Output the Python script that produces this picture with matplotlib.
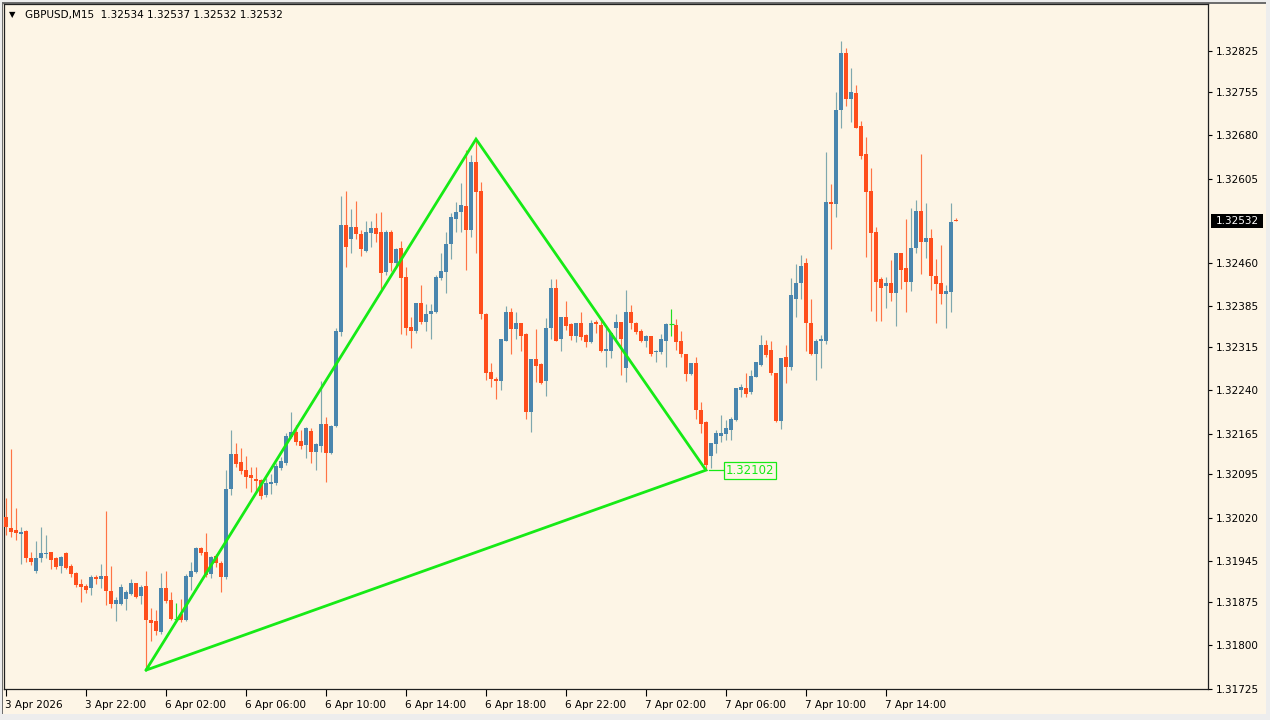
import matplotlib
matplotlib.use("Agg")
import matplotlib.pyplot as plt
from matplotlib.patches import Rectangle
import matplotlib.transforms as mtransforms

symbol_title = "GBPUSD,M15"
last_quote = ["1.32534", "1.32537", "1.32532", "1.32532"]

opens = [1.32021, 1.32003, 1.31998, 1.31991, 1.31997, 1.31950, 1.31928, 1.31950, 1.31957, 1.31960,
         1.31950, 1.31937, 1.31959, 1.31937, 1.31924, 1.31905, 1.31903, 1.31898, 1.31918, 1.31914,
         1.31919, 1.31894, 1.31871, 1.31871, 1.31879, 1.31888, 1.31907, 1.31885, 1.31902, 1.31843,
         1.31842, 1.31822, 1.31898, 1.31878, 1.31846, 1.31853, 1.31843, 1.31917, 1.31927, 1.31967,
         1.31960, 1.31922, 1.31954, 1.31941, 1.31918, 1.32069, 1.32130, 1.32116, 1.32102, 1.32094,
         1.32087, 1.32085, 1.32059, 1.32078, 1.32079, 1.32105, 1.32114, 1.32160, 1.32167, 1.32153,
         1.32145, 1.32170, 1.32134, 1.32144, 1.32181, 1.32131, 1.32179, 1.32340, 1.32524, 1.32500,
         1.32521, 1.32509, 1.32480, 1.32511, 1.32519, 1.32512, 1.32443, 1.32512, 1.32459, 1.32485,
         1.32435, 1.32349, 1.32342, 1.32390, 1.32358, 1.32372, 1.32374, 1.32433, 1.32444, 1.32492,
         1.32536, 1.32547, 1.32558, 1.32517, 1.32633, 1.32584, 1.32372, 1.32271, 1.32260, 1.32256,
         1.32325, 1.32374, 1.32345, 1.32355, 1.32336, 1.32202, 1.32293, 1.32285, 1.32256, 1.32348,
         1.32417, 1.32328, 1.32366, 1.32354, 1.32334, 1.32355, 1.32335, 1.32323, 1.32357, 1.32352,
         1.32308, 1.32308, 1.32348, 1.32357, 1.32278, 1.32375, 1.32356, 1.32342, 1.32325, 1.32333,
         1.32305, 1.32305, 1.32325, 1.32354, 1.32352, 1.32325, 1.32302, 1.32267, 1.32286, 1.32206,
         1.32185, 1.32127, 1.32147, 1.32161, 1.32164, 1.32172, 1.32188, 1.32240, 1.32243, 1.32236,
         1.32263, 1.32283, 1.32318, 1.32309, 1.32269, 1.32186, 1.32297, 1.32280, 1.32398, 1.32424,
         1.32460, 1.32355, 1.32303, 1.32324, 1.32325, 1.32564, 1.32561, 1.32723, 1.32821, 1.32743,
         1.32752, 1.32696, 1.32647, 1.32584, 1.32513, 1.32431, 1.32420, 1.32424, 1.32407, 1.32476,
         1.32450, 1.32426, 1.32486, 1.32549, 1.32495, 1.32502, 1.32437, 1.32424, 1.32405, 1.32409,
         1.32534]
highs = [1.32054, 1.32138, 1.32037, 1.32004, 1.31999, 1.31961, 1.31979, 1.32004, 1.31990, 1.31961,
         1.31953, 1.31954, 1.31960, 1.31940, 1.31927, 1.31914, 1.31906, 1.31921, 1.31921, 1.31940,
         1.32032, 1.31937, 1.31884, 1.31906, 1.31895, 1.31914, 1.31908, 1.31904, 1.31928, 1.31864,
         1.31861, 1.31925, 1.31928, 1.31892, 1.31872, 1.31879, 1.31922, 1.31944, 1.31970, 1.31970,
         1.31994, 1.31954, 1.31957, 1.31945, 1.32102, 1.32171, 1.32148, 1.32140, 1.32126, 1.32107,
         1.32107, 1.32087, 1.32088, 1.32096, 1.32115, 1.32125, 1.32166, 1.32202, 1.32180, 1.32171,
         1.32177, 1.32174, 1.32148, 1.32256, 1.32193, 1.32180, 1.32348, 1.32575, 1.32584, 1.32552,
         1.32566, 1.32516, 1.32532, 1.32532, 1.32545, 1.32548, 1.32516, 1.32516, 1.32486, 1.32497,
         1.32452, 1.32367, 1.32391, 1.32421, 1.32389, 1.32389, 1.32439, 1.32477, 1.32513, 1.32545,
         1.32565, 1.32597, 1.32654, 1.32646, 1.32673, 1.32599, 1.32373, 1.32286, 1.32263, 1.32329,
         1.32385, 1.32381, 1.32375, 1.32356, 1.32339, 1.32294, 1.32345, 1.32286, 1.32365, 1.32432,
         1.32432, 1.32367, 1.32393, 1.32355, 1.32356, 1.32374, 1.32337, 1.32361, 1.32361, 1.32362,
         1.32347, 1.32341, 1.32371, 1.32358, 1.32413, 1.32387, 1.32358, 1.32345, 1.32335, 1.32334,
         1.32309, 1.32337, 1.32355, 1.32380, 1.32362, 1.32342, 1.32303, 1.32287, 1.32297, 1.32219,
         1.32186, 1.32149, 1.32172, 1.32197, 1.32188, 1.32194, 1.32244, 1.32251, 1.32269, 1.32274,
         1.32289, 1.32335, 1.32327, 1.32324, 1.32270, 1.32296, 1.32318, 1.32433, 1.32458, 1.32473,
         1.32468, 1.32397, 1.32329, 1.32335, 1.32650, 1.32596, 1.32754, 1.32842, 1.32831, 1.32796,
         1.32766, 1.32704, 1.32676, 1.32624, 1.32521, 1.32435, 1.32435, 1.32464, 1.32477, 1.32477,
         1.32535, 1.32555, 1.32568, 1.32647, 1.32563, 1.32518, 1.32466, 1.32490, 1.32421, 1.32562,
         1.32537]
lows = [1.31990, 1.31987, 1.31981, 1.31940, 1.31944, 1.31938, 1.31925, 1.31944, 1.31950, 1.31931,
        1.31931, 1.31925, 1.31931, 1.31918, 1.31901, 1.31875, 1.31890, 1.31887, 1.31906, 1.31898,
        1.31869, 1.31864, 1.31842, 1.31869, 1.31861, 1.31887, 1.31881, 1.31871, 1.31757, 1.31808,
        1.31818, 1.31819, 1.31872, 1.31843, 1.31845, 1.31840, 1.31842, 1.31896, 1.31924, 1.31956,
        1.31918, 1.31916, 1.31935, 1.31892, 1.31915, 1.32059, 1.32108, 1.32096, 1.32072, 1.32065,
        1.32065, 1.32053, 1.32056, 1.32061, 1.32076, 1.32102, 1.32111, 1.32157, 1.32145, 1.32138,
        1.32123, 1.32115, 1.32102, 1.32134, 1.32082, 1.32129, 1.32177, 1.32334, 1.32453, 1.32477,
        1.32500, 1.32472, 1.32478, 1.32487, 1.32495, 1.32414, 1.32439, 1.32446, 1.32450, 1.32336,
        1.32335, 1.32313, 1.32339, 1.32354, 1.32342, 1.32328, 1.32373, 1.32430, 1.32407, 1.32466,
        1.32513, 1.32513, 1.32447, 1.32504, 1.32477, 1.32362, 1.32257, 1.32245, 1.32224, 1.32241,
        1.32324, 1.32302, 1.32328, 1.32308, 1.32190, 1.32167, 1.32254, 1.32250, 1.32230, 1.32329,
        1.32324, 1.32308, 1.32344, 1.32327, 1.32323, 1.32327, 1.32315, 1.32321, 1.32338, 1.32306,
        1.32280, 1.32296, 1.32327, 1.32266, 1.32254, 1.32345, 1.32337, 1.32323, 1.32315, 1.32299,
        1.32289, 1.32302, 1.32280, 1.32334, 1.32310, 1.32298, 1.32256, 1.32266, 1.32190, 1.32166,
        1.32102, 1.32106, 1.32131, 1.32151, 1.32154, 1.32154, 1.32187, 1.32229, 1.32229, 1.32233,
        1.32262, 1.32282, 1.32298, 1.32266, 1.32185, 1.32173, 1.32253, 1.32275, 1.32366, 1.32398,
        1.32308, 1.32301, 1.32257, 1.32279, 1.32320, 1.32483, 1.32539, 1.32693, 1.32730, 1.32703,
        1.32692, 1.32638, 1.32470, 1.32377, 1.32360, 1.32360, 1.32382, 1.32394, 1.32351, 1.32414,
        1.32375, 1.32411, 1.32477, 1.32440, 1.32468, 1.32413, 1.32356, 1.32388, 1.32348, 1.32375,
        1.32532]
closes = [1.32004, 1.31995, 1.31993, 1.31996, 1.31950, 1.31943, 1.31950, 1.31959, 1.31959, 1.31947,
          1.31935, 1.31952, 1.31933, 1.31922, 1.31904, 1.31901, 1.31896, 1.31918, 1.31914, 1.31919,
          1.31894, 1.31871, 1.31878, 1.31900, 1.31891, 1.31907, 1.31884, 1.31901, 1.31843, 1.31839,
          1.31824, 1.31898, 1.31877, 1.31846, 1.31846, 1.31843, 1.31920, 1.31928, 1.31968, 1.31959,
          1.31921, 1.31952, 1.31941, 1.31918, 1.32069, 1.32129, 1.32112, 1.32101, 1.32091, 1.32088,
          1.32083, 1.32058, 1.32079, 1.32082, 1.32109, 1.32117, 1.32161, 1.32167, 1.32150, 1.32144,
          1.32174, 1.32134, 1.32147, 1.32181, 1.32131, 1.32179, 1.32342, 1.32524, 1.32487, 1.32521,
          1.32509, 1.32483, 1.32512, 1.32519, 1.32509, 1.32442, 1.32512, 1.32459, 1.32483, 1.32433,
          1.32347, 1.32342, 1.32390, 1.32358, 1.32372, 1.32377, 1.32436, 1.32446, 1.32492, 1.32538,
          1.32548, 1.32559, 1.32517, 1.32633, 1.32582, 1.32371, 1.32269, 1.32259, 1.32256, 1.32328,
          1.32374, 1.32345, 1.32355, 1.32334, 1.32202, 1.32293, 1.32282, 1.32253, 1.32348, 1.32416,
          1.32325, 1.32366, 1.32351, 1.32334, 1.32355, 1.32332, 1.32323, 1.32355, 1.32354, 1.32308,
          1.32310, 1.32339, 1.32357, 1.32329, 1.32375, 1.32355, 1.32340, 1.32325, 1.32333, 1.32302,
          1.32308, 1.32328, 1.32354, 1.32354, 1.32323, 1.32302, 1.32267, 1.32286, 1.32205, 1.32182,
          1.32111, 1.32148, 1.32166, 1.32166, 1.32175, 1.32190, 1.32243, 1.32245, 1.32234, 1.32264,
          1.32288, 1.32318, 1.32301, 1.32269, 1.32186, 1.32295, 1.32280, 1.32404, 1.32424, 1.32454,
          1.32355, 1.32303, 1.32325, 1.32329, 1.32564, 1.32561, 1.32724, 1.32821, 1.32743, 1.32754,
          1.32693, 1.32644, 1.32581, 1.32511, 1.32427, 1.32417, 1.32424, 1.32407, 1.32476, 1.32448,
          1.32426, 1.32486, 1.32549, 1.32495, 1.32502, 1.32437, 1.32423, 1.32405, 1.32411, 1.32530,
          1.32532]

time_label_bars = [0, 16, 32, 48, 64, 80, 96, 112, 128, 144, 160, 176]
time_labels = ["3 Apr 2026", "3 Apr 22:00", "6 Apr 02:00", "6 Apr 06:00", "6 Apr 10:00",
               "6 Apr 14:00", "6 Apr 18:00", "6 Apr 22:00", "7 Apr 02:00", "7 Apr 06:00",
               "7 Apr 10:00", "7 Apr 14:00"]
price_ticks = [1.32825, 1.32755, 1.32680, 1.32605, 1.32460, 1.32385, 1.32315, 1.32240,
               1.32165, 1.32095, 1.32020, 1.31945, 1.31875, 1.31800, 1.31725]
price_tick_labels = ["1.32825", "1.32755", "1.32680", "1.32605", "1.32460", "1.32385", "1.32315",
                     "1.32240", "1.32165", "1.32095", "1.32020", "1.31945", "1.31875", "1.31800",
                     "1.31725"]
pattern_bars = [28, 94, 140]
pattern_label = "1.32102"
current_price_label = "1.32532"

# ---------------- styling ----------------
W, Hh = 1270, 720
BG = "#FDF5E6"
BULL_BODY = "#4A86AE"
BULL_WICK = "#7FA8AE"
BEAR_BODY = "#FF4E1C"
BEAR_WICK = "#FF7444"
DOJI = "#22DD22"
PATTERN = "#16EA16"
FS = 7.5

plt.rcParams["font.family"] = ["DejaVu Sans"]

fig = plt.figure(figsize=(12.7, 7.2), dpi=100, facecolor="#EDEDED")
fig.patches.append(Rectangle((3 / W, 6 / Hh), (1266 - 3) / W, (717 - 6) / Hh,
                             transform=fig.transFigure, facecolor=BG, edgecolor="none", zorder=-3))
fig.patches.append(Rectangle((2 / W, 6 / Hh), 1.2 / W, (717 - 6) / Hh,
                             transform=fig.transFigure, facecolor="#6E6E6E", edgecolor="none", zorder=-2))
fig.patches.append(Rectangle((2 / W, 716.5 / Hh), (1266 - 2) / W, 1.2 / Hh,
                             transform=fig.transFigure, facecolor="#6E6E6E", edgecolor="none", zorder=-2))

ax = fig.add_axes([4 / W, (720 - 689) / Hh, (1208 - 4) / W, (689 - 4) / Hh])
ax.set_zorder(2)
ax.set_facecolor(BG)

n = len(opens)
xs = list(range(n))
px_price = (1.32825 - 1.31725) / 637.7  # price per pixel (for minimum body thickness)

for i in xs:
    o, h, l, c = opens[i], highs[i], lows[i], closes[i]
    if o == c:
        ax.vlines(i, l, h, colors=DOJI, linewidth=0.85, zorder=2)
        ax.hlines(o, i - 0.3, i + 0.6, colors=DOJI, linewidth=0.85, zorder=2)
        continue
    bull = c > o
    wc = BULL_WICK if bull else BEAR_WICK
    bc = BULL_BODY if bull else BEAR_BODY
    ax.vlines(i, l, h, colors=wc, linewidth=0.85, zorder=2)
    lo, hi = min(o, c), max(o, c)
    height = max(hi - lo, 1.3 * px_price)
    ax.bar(i, height, bottom=lo, width=0.7, color=bc, linewidth=0, zorder=3)

# pattern triangle
p_idx = pattern_bars + [pattern_bars[0]]
p_val = [lows[pattern_bars[0]], highs[pattern_bars[1]], lows[pattern_bars[2]], lows[pattern_bars[0]]]
ax.plot(p_idx, p_val, color=PATTERN, linewidth=2.0, zorder=5, solid_capstyle="round",
        solid_joinstyle="miter")

# pattern low label
lb = pattern_bars[2]
lv = lows[lb]
ax.plot([lb + 0.6, lb + 3.6], [lv, lv], color=PATTERN, linewidth=0.9, zorder=5)
ax.add_patch(Rectangle((lb + 3.6, lv - 8.6 * px_price), 10.4, 17.2 * px_price,
                       facecolor=BG, edgecolor=PATTERN, linewidth=0.9, zorder=6))
ax.text(lb + 3.6 + 5.2, lv, pattern_label, color=PATTERN, fontsize=8.5,
        ha="center", va="center", zorder=7)

ax.set_xlim(-0.4, 240.4)
ax.set_ylim(1.31725 - 0.3 * px_price, 1.32825 + 47 * px_price)

# axes
for side in ["left", "top", "bottom", "right"]:
    ax.spines[side].set_color("#202020")
    ax.spines[side].set_linewidth(0.9)

ax.yaxis.tick_right()
ax.set_yticks(price_ticks)
ax.set_yticklabels(price_tick_labels)
ax.tick_params(axis="y", direction="out", length=3, width=0.8, pad=2.5, labelsize=FS, colors="black")
ax.set_xticks(time_label_bars)
ax.set_xticklabels(time_labels, ha="left")
ax.tick_params(axis="x", direction="out", length=5, width=0.8, pad=3, labelsize=FS, colors="black")
offset = mtransforms.ScaledTranslation(-1 / 100, 0, fig.dpi_scale_trans)
for lab in ax.get_xticklabels():
    lab.set_transform(lab.get_transform() + offset)

# current price label on the right axis
blend = mtransforms.blended_transform_factory(ax.transAxes, ax.transData)
cur = closes[-1]
ax.add_patch(Rectangle((1 + 3 / 1204, cur - 7 * px_price), 52 / 1204, 14 * px_price,
                       transform=blend, facecolor="black", edgecolor="none", clip_on=False, zorder=10))
ax.text(1 + 29 / 1204, cur, current_price_label, transform=blend, color="white", fontsize=FS,
        ha="center", va="center", clip_on=False, zorder=11)

# header
fig.text(12 / W, 1 - 15 / Hh, "\u25BC", fontsize=6, ha="center", va="center", color="black")
fig.text(25 / W, 1 - 15 / Hh, symbol_title + "  " + " ".join(last_quote), fontsize=FS,
         ha="left", va="center", color="black")

fig.savefig("out.png", dpi=100, facecolor=fig.get_facecolor())
